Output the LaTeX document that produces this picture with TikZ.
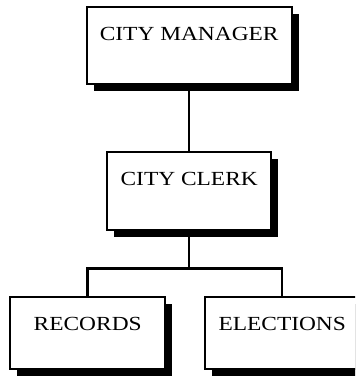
\documentclass[tikz,border=0pt]{standalone}
\usepackage{fontspec}
\usepackage{tikz}
\usetikzlibrary{shadows,positioning}
\newfontfamily\orgfont[FakeStretch=1.17]{Liberation Serif}
\newcommand{\Link}[2]{\draw [link] (#1) -- (#2);}

\begin{document}
\begin{tikzpicture}
[x=1pt, y=-1pt,
 link/.style={line width=2.5pt},
 unit/.style={draw,line width=2.4pt,fill=white,rectangle,anchor=north west,
   inner sep=0pt,text height=33pt,text depth=40pt,
   font=\orgfont\fontsize{20}{24}\selectfont,
   drop shadow={shadow xshift=7pt,shadow yshift=-7pt,fill=black,opacity=1}},]

\path [use as bounding box, clip] (0,0) rectangle (355,379);

\node [unit, minimum width=205pt, text depth=44pt] at (85.5,6) (M) {CITY MANAGER};
\node [unit, minimum width=164pt, text depth=45pt] at (106,151) (C) {CITY CLERK};
\node [unit, minimum width=155pt, text depth=39pt] at (9,296) (R) {RECORDS};
\node [unit, minimum width=154pt, text depth=39pt] at (204,296) (E) {ELECTIONS};

\coordinate [below=37pt of C.south] (split);
\Link{M}{C}
\draw [link] (C.south) -- (split) -| (R.north);
\draw [link] (split) -| (E.north);
\end{tikzpicture}
\end{document}
